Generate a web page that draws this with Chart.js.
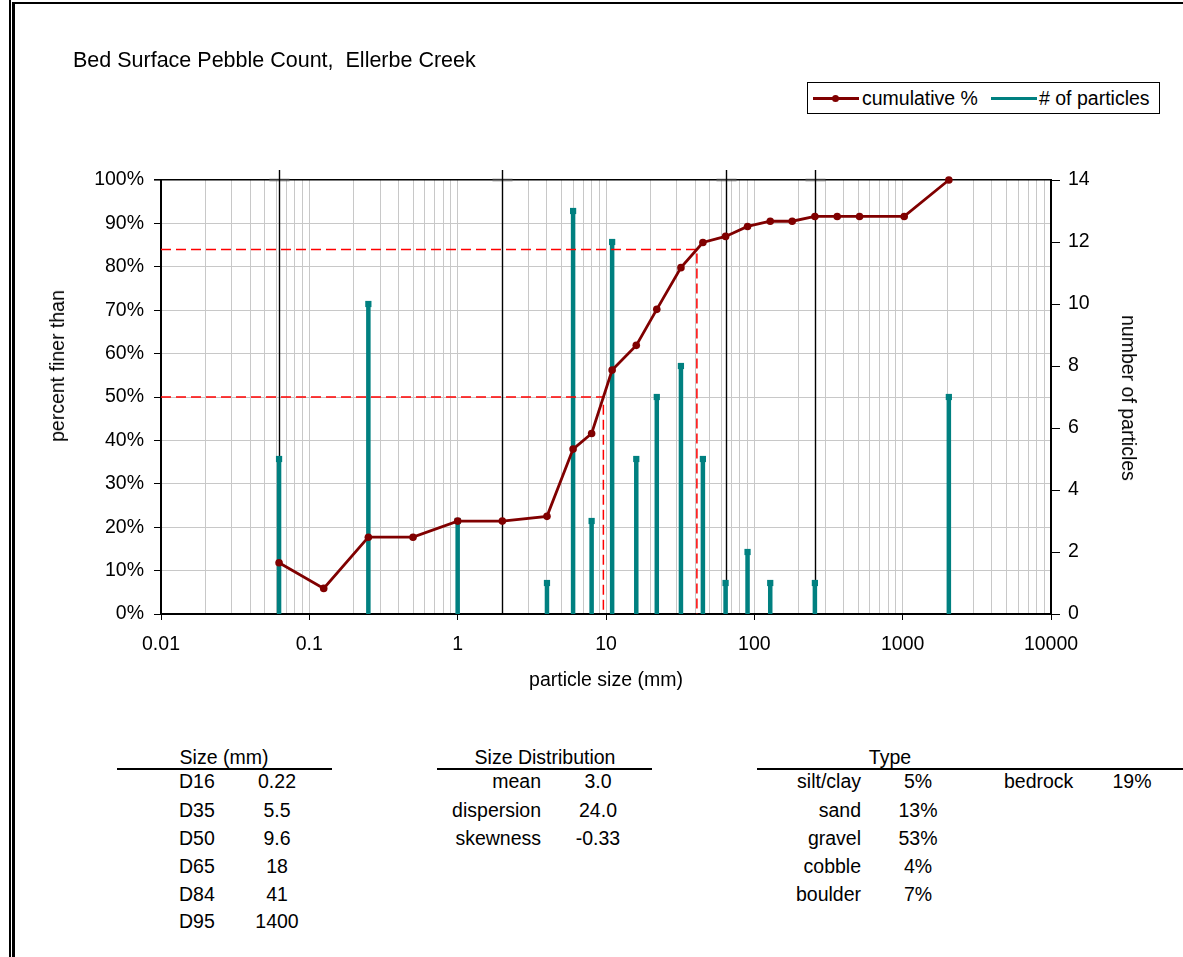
<!DOCTYPE html>
<html>
<head>
<meta charset="utf-8">
<script src="https://cdn.jsdelivr.net/npm/chart.js@4.4.0/dist/chart.umd.min.js"></script>
<style>
  html, body { margin: 0; padding: 0; background: #fff; }
  body {
    width: 1183px; height: 957px; position: relative; overflow: hidden;
    font-family: "Liberation Sans", Arial, sans-serif; color: #000;
  }
  #pebbleChart { position: absolute; left: 0; top: 0; }
  .txt { position: absolute; white-space: pre; font-size: 19.5px; line-height: 24px; }
  .frame { position: absolute; background: #000; }
  .rule { position: absolute; height: 2px; background: #000; }
  #legend {
    position: absolute; left: 807px; top: 82px; width: 351px; height: 30px;
    border: 1px solid #000; background: #fff;
  }
  .lg-line { position: absolute; height: 3px; top: 14px; }
  .lg-dot { position: absolute; width: 7px; height: 7px; border-radius: 50%; top: 12px; background: #800000; }
</style>
</head>
<body>
<div class="frame" style="left:9px; top:0; width:2px; height:957px;"></div>
<div class="frame" style="left:12px; top:2px; width:3px; height:955px;"></div>
<div class="frame" style="left:12px; top:2px; width:1171px; height:2px;"></div>

<canvas id="pebbleChart" width="1183" height="700"></canvas>

<div id="legend">
  <div class="lg-line" style="left:5px; width:46px; background:#800000;"></div>
  <div class="lg-dot" style="left:24px;"></div>
  <div class="txt" style="left:54px; top:3px;">cumulative %</div>
  <div class="lg-line" style="left:183px; width:46px; background:#008080;"></div>
  <div class="txt" style="left:231px; top:3px;"># of particles</div>
</div>

<script>
// particle size classes (mm) and what was counted in each
const sizes = [0.0625, 0.125, 0.25, 0.5, 1, 2, 4, 6, 8, 11, 16, 22, 32, 45, 64, 90, 128, 180, 256, 362, 512, 1024, 2048];
const cumulative = [11.8, 5.9, 17.7, 17.7, 21.4, 21.4, 22.5, 38.0, 41.6, 56.2, 61.9, 70.2, 79.8, 85.6, 87.0, 89.3, 90.5, 90.5, 91.6, 91.6, 91.6, 91.6, 100];
const counts = [5, 0, 10, 0, 3, 0, 1, 13, 3, 12, 5, 7, 8, 5, 1, 2, 1, 0, 1, 0, 0, 0, 7];

// silt/sand, sand/gravel, gravel/cobble, cobble/boulder limits
const boundaries = [0.0625, 2, 64, 256];
const d50 = 9.6;
const d84 = 41;

const xTickLabels = [0.01, 0.1, 1, 10, 100, 1000, 10000];
const yTickLabels = [0, 10, 20, 30, 40, 50, 60, 70, 80, 90, 100];
const y1TickLabels = [0, 2, 4, 6, 8, 10, 12, 14];

const sizeLabels = ["D16", "D35", "D50", "D65", "D84", "D95"];
const sizeValues = ["0.22", "5.5", "9.6", "18", "41", "1400"];
const distLabels = ["mean", "dispersion", "skewness"];
const distValues = ["3.0", "24.0", "-0.33"];
const typeLabels = ["silt/clay", "sand", "gravel", "cobble", "boulder"];
const typeValues = ["5%", "13%", "53%", "4%", "7%"];
const bedrockValue = "19%";

const xMin = xTickLabels[0];
const xMax = xTickLabels[xTickLabels.length - 1];

Chart.defaults.font.family = '"Liberation Sans", Arial, sans-serif';
Chart.defaults.font.size = 19.5;
Chart.defaults.color = "#000";

const cumulativePoints = sizes.map((s, i) => ({ x: s, y: cumulative[i] }));

// each count is a vertical stem, broken apart with a null point
const stemPoints = [];
sizes.forEach((s, i) => {
  if (counts[i] > 0) {
    stemPoints.push({ x: s, y: 0 }, { x: s, y: counts[i] }, { x: s, y: null });
  }
});

const d84Line = [{ x: xMin, y: 84 }, { x: d84, y: 84 }, { x: d84, y: 0 }];
const d50Line = [{ x: xMin, y: 50 }, { x: d50, y: 50 }, { x: d50, y: 0 }];

const isLabelTick = (v) => xTickLabels.some((t) => Math.abs(v - t) / t < 1e-6);

const boundaryLines = {
  id: "boundaryLines",
  beforeDatasetsDraw(chart) {
    const { ctx, chartArea, scales } = chart;
    ctx.save();
    boundaries.forEach((b) => {
      const px = Math.round(scales.x.getPixelForValue(b)) + 0.5;
      ctx.strokeStyle = "rgba(110,110,110,0.5)";
      ctx.lineWidth = 3;
      ctx.beginPath();
      ctx.moveTo(px - 10, chartArea.top);
      ctx.lineTo(px + 10, chartArea.top);
      ctx.stroke();
      ctx.strokeStyle = "#000";
      ctx.lineWidth = 1.4;
      ctx.beginPath();
      ctx.moveTo(px, chartArea.top - 10);
      ctx.lineTo(px, chartArea.bottom);
      ctx.stroke();
    });
    ctx.restore();
  },
};

const ctx = document.getElementById("pebbleChart").getContext("2d");
const pebbleChart = new Chart(ctx, {
  type: "scatter",
  data: {
    datasets: [
      {
        label: "cumulative %",
        data: cumulativePoints,
        yAxisID: "y",
        showLine: true,
        clip: false,
        borderColor: "#800000",
        backgroundColor: "#800000",
        borderWidth: 2.8,
        pointRadius: 3.8,
        pointBorderWidth: 0,
        tension: 0,
      },
      {
        label: "D84",
        data: d84Line,
        yAxisID: "y",
        showLine: true,
        borderColor: "#ff0000",
        borderWidth: 1.5,
        borderDash: [10, 5],
        pointRadius: 0,
      },
      {
        label: "D50",
        data: d50Line,
        yAxisID: "y",
        showLine: true,
        borderColor: "#ff0000",
        borderWidth: 1.5,
        borderDash: [10, 5],
        pointRadius: 0,
      },
      {
        label: "# of particles",
        data: stemPoints,
        yAxisID: "y1",
        showLine: true,
        spanGaps: false,
        borderColor: "#008080",
        backgroundColor: "#008080",
        borderWidth: 4.5,
        borderCapStyle: "butt",
        pointStyle: "rect",
        pointRadius: (c) => (c.raw && c.raw.y > 0 ? 4.4 : 0),
        pointBorderWidth: 0,
      },
    ],
  },
  options: {
    responsive: false,
    animation: false,
    layout: { padding: { top: 180, left: 0, right: 0, bottom: 0 } },
    plugins: {
      legend: { display: false },
      tooltip: { enabled: false },
    },
    scales: {
      x: {
        type: "logarithmic",
        min: xMin,
        max: xMax,
        afterBuildTicks(scale) {
          const ticks = [];
          xTickLabels.forEach((t, i) => {
            ticks.push({ value: t });
            if (i < xTickLabels.length - 1) {
              for (let m = 2; m <= 9; m++) ticks.push({ value: +(m * t).toPrecision(6) });
            }
          });
          scale.ticks = ticks;
        },
        afterFit(scale) {
          scale.height = 700 - 614;
        },
        ticks: {
          autoSkip: false,
          maxRotation: 0,
          padding: 13,
          callback: (v) => (isLabelTick(v) ? String(v) : ""),
        },
        grid: {
          color: "#c8c8c8",
          lineWidth: 1,
          tickLength: 6,
          tickColor: (c) => (c.tick && isLabelTick(c.tick.value) ? "#000" : "rgba(0,0,0,0)"),
        },
        border: { color: "#000", width: 2 },
      },
      y: {
        position: "left",
        min: 0,
        max: 100,
        afterBuildTicks(scale) {
          scale.ticks = yTickLabels.map((v) => ({ value: v }));
        },
        afterFit(scale) {
          scale.width = 161;
        },
        ticks: { padding: 10, callback: (v) => v + "%" },
        grid: {
          color: (c) => (c.tick && c.tick.value === 100 ? "#000" : "#c8c8c8"),
          lineWidth: (c) => (c.tick && c.tick.value === 100 ? 1.6 : 1),
          tickLength: 7,
          tickColor: "#000",
        },
        border: { color: "#000", width: 2 },
      },
      y1: {
        position: "right",
        min: 0,
        max: 14,
        afterBuildTicks(scale) {
          scale.ticks = y1TickLabels.map((v) => ({ value: v }));
        },
        afterFit(scale) {
          scale.width = 1183 - 1051;
        },
        ticks: { padding: 8 },
        grid: { drawOnChartArea: false, tickLength: 9, tickColor: "#000" },
        border: { color: "#000", width: 2 },
      },
    },
  },
  plugins: [boundaryLines],
});

// text placed around the plot
const put = (text, x, y, align, extra) => {
  const el = document.createElement("div");
  el.className = "txt";
  el.textContent = text;
  el.style.left = x + "px";
  el.style.top = y - 12 + "px";
  let tr = align === "center" ? "translateX(-50%)" : align === "right" ? "translateX(-100%)" : "";
  el.style.transform = tr;
  if (extra) Object.assign(el.style, extra);
  document.body.appendChild(el);
  return el;
};

put("Bed Surface Pebble Count,  Ellerbe Creek", 73, 60, "left", { fontSize: "21.5px" });
put("particle size (mm)", 606, 679, "center");

const rotated = (text, cx, cy, deg) => {
  const el = put(text, cx, cy, "left");
  el.style.left = cx + "px";
  el.style.top = cy + "px";
  el.style.transform = "translate(-50%, -50%) rotate(" + deg + "deg)";
};
rotated("percent finer than", 57, 366, -90);
rotated("number of particles", 1129, 398, 90);

// stats tables under the chart
const rowY = [781, 810, 838, 866, 894, 921];

put("Size (mm)", 224, 757, "center");
const r1 = document.createElement("div");
r1.className = "rule";
Object.assign(r1.style, { left: "117px", top: "768px", width: "215px" });
document.body.appendChild(r1);
sizeLabels.forEach((l, i) => {
  put(l, 179, rowY[i], "left");
  put(sizeValues[i], 277, rowY[i], "center");
});

put("Size Distribution", 545, 757, "center");
const r2 = document.createElement("div");
r2.className = "rule";
Object.assign(r2.style, { left: "437px", top: "768px", width: "215px" });
document.body.appendChild(r2);
distLabels.forEach((l, i) => {
  put(l, 541, rowY[i], "right");
  put(distValues[i], 598, rowY[i], "center");
});

put("Type", 890, 757, "center");
const r3 = document.createElement("div");
r3.className = "rule";
Object.assign(r3.style, { left: "757px", top: "768px", width: "426px" });
document.body.appendChild(r3);
typeLabels.forEach((l, i) => {
  put(l, 861, rowY[i], "right");
  put(typeValues[i], 918, rowY[i], "center");
});
put("bedrock", 1004, rowY[0], "left");
put(bedrockValue, 1132, rowY[0], "center");
</script>
</body>
</html>
